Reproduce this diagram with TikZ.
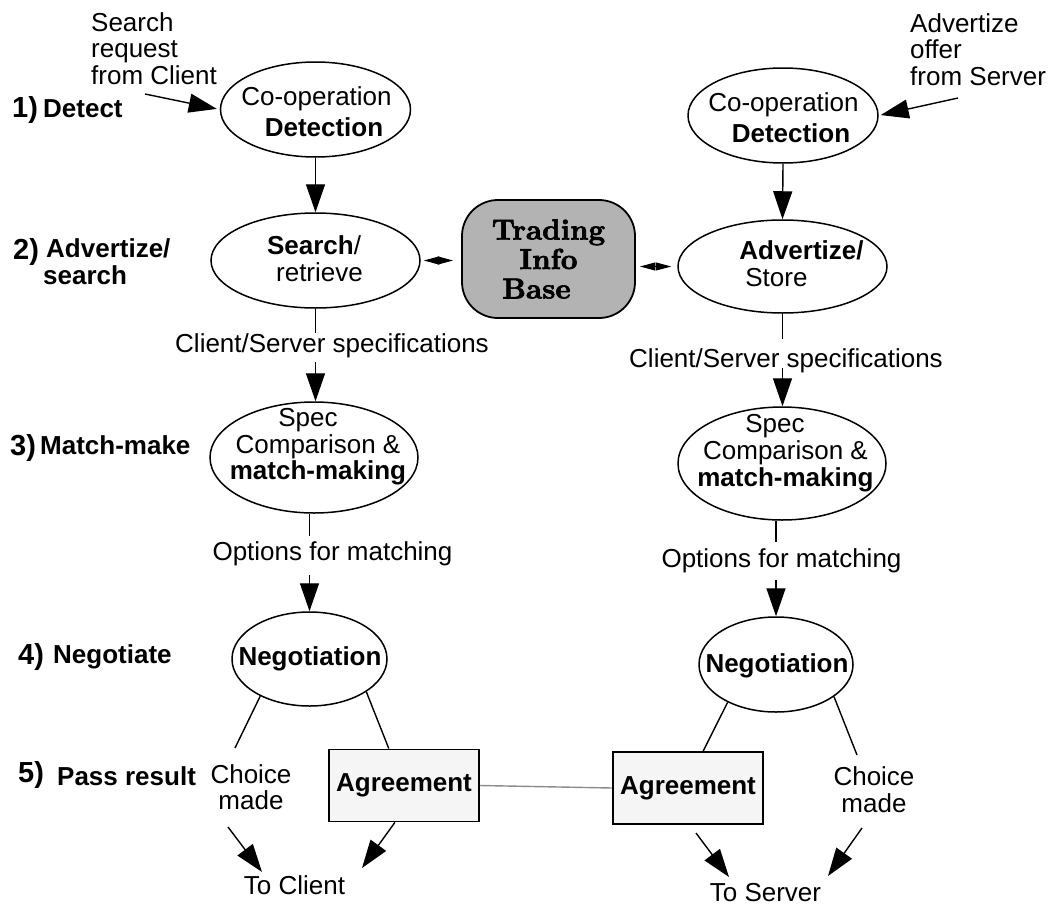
\documentclass[tikz,border=0pt]{standalone}
\usepackage{fontspec}
\newfontfamily\sansfont{Liberation Sans}
\newfontfamily\tibfont{lmroman10-bold.otf}[FakeBold=2.2]
\usetikzlibrary{shapes.geometric,arrows.meta,calc}

\definecolor{tibgray}{HTML}{B3B3B3}
\definecolor{agreefill}{HTML}{F5F5F5}
\definecolor{linkgray}{HTML}{8C8C8C}

\tikzset{
  lbl/.style={font=\sansfont\fontsize{26}{26.5}\selectfont, inner sep=0pt, align=center},
  lblb/.style={lbl, font=\sansfont\bfseries\fontsize{26}{26.5}\selectfont},
  stepnum/.style={font=\sansfont\bfseries\fontsize{29}{30}\selectfont, inner sep=0pt, anchor=base west},
  stagetext/.style={lblb, anchor=base west},
  oval/.style={draw, ellipse, line width=1.5pt, inner sep=0pt},
  conn/.style={line width=1.4pt},
  arr/.style={conn, -{Triangle[length=28pt,width=19pt]}},
  dbl/.style={line width=1pt, {Triangle[length=15.5pt,width=8pt]}-{Triangle[length=15.5pt,width=8pt]}},
  agree/.style={draw, line width=1.8pt, fill=agreefill, minimum width=150pt, minimum height=72pt,
                inner sep=0pt, font=\sansfont\bfseries\fontsize{26}{26.5}\selectfont},
  tibbox/.style={draw, line width=1.8pt, fill=tibgray, rounded corners=36pt,
                 minimum width=173pt, minimum height=118pt, inner sep=0pt, align=center,
                 font=\tibfont\fontsize{29}{29.5}\selectfont}
}

\begin{document}
\begin{tikzpicture}[x=1pt,y=-1pt]
\useasboundingbox (0,0) rectangle (1055,905);

% ---- stage labels on the left
\node[stepnum] (n1lbl) at (12,117) {1)};
\node[stagetext] (t1lbl) at (43,117) {Detect};
\node[stepnum] (n2lbl) at (13,259) {2)};
\node[stagetext] (t2lbl) at (46,257) {Advertize/};
\node[stagetext] (t2blbl) at (43,284) {search};
\node[stepnum] (n3lbl) at (10,455) {3)};
\node[stagetext] (t3lbl) at (40,454) {Match-make};
\node[stepnum] (n4lbl) at (18,664) {4)};
\node[stagetext] (t4lbl) at (53,663) {Negotiate};
\node[stepnum] (n5lbl) at (18,782) {5)};
\node[stagetext] (t5lbl) at (57,785) {Pass result};

% ---- incoming requests
\node[lbl, align=left, anchor=north west] (sreq) at (91,12.4) {Search\\request\\from Client};
\node[lbl, align=left, anchor=north west] (aoff) at (910,13.4) {Advertize\\offer\\from Server};
\coordinate (sreqEnd) at (145,94);
\coordinate (aoffEnd) at (958,98);

% ---- client side ovals
\node[oval, minimum width=190pt, minimum height=95pt] (d1) at (315.5,109.5) {};
\node[lbl, font=\sansfont\fontsize{26}{31}\selectfont] (d1t) at (316.5,112.2) {Co-operation\\\hspace*{15pt}\textbf{Detection}};
\node[oval, minimum width=209pt, minimum height=95pt] (s1) at (315.5,260.5) {};
\node[lbl, font=\sansfont\fontsize{26}{27}\selectfont] (s1t) at (314,259.2) {\textbf{Search}/\\\hspace*{11pt}retrieve};
\node[oval, minimum width=208pt, minimum height=111pt] (m1) at (314,457.5) {};
\node[lbl] (m1t) at (318,447) {Spec\hspace*{20pt}\\Comparison \&\\\textbf{match-making}};
\node[oval, minimum width=155pt, minimum height=94pt] (n1) at (309.5,659) {};
\node[lblb, anchor=base] (n1t) at (310,665) {Negotiation};

% ---- server side ovals
\node[oval, minimum width=190pt, minimum height=95pt] (d2) at (783,115.5) {};
\node[lbl, font=\sansfont\fontsize{26}{31}\selectfont] (d2t) at (783.5,118) {Co-operation\\\hspace*{15pt}\textbf{Detection}};
\node[oval, minimum width=209pt, minimum height=93pt] (s2) at (782.5,266.5) {};
\node[lbl, align=left, font=\sansfont\fontsize{26}{27}\selectfont] (s2t) at (801.5,264.2) {\textbf{Advertize/}\\\hspace*{6pt}Store};
\node[oval, minimum width=208pt, minimum height=113pt] (m2) at (782,463.5) {};
\node[lbl, font=\sansfont\fontsize{26}{27}\selectfont] (m2t) at (785.5,453.5) {Spec\hspace*{21pt}\\Comparison \&\\\textbf{match-making}};
\node[oval, minimum width=154pt, minimum height=95pt] (n2) at (776,664.5) {};
\node[lblb, anchor=base] (n2t) at (777,672) {Negotiation};

% ---- shared trading information base
\node[tibbox] (tib) at (548.5,259) {Trading\\Info\hspace*{24pt}\\Base\hspace*{24pt}};

% ---- connector labels
\node[lbl, anchor=base] (cs1) at (332,352) {Client/Server specifications};
\node[lbl, anchor=base] (op1) at (332.5,560) {Options for matching};
\node[lbl, anchor=base] (cs2) at (786,367) {Client/Server specifications};
\node[lbl, anchor=base] (op2) at (781.5,567) {Options for matching};

% ---- results
\node[agree] (a1) at (404,785.5) {Agreement};
\node[agree] (a2) at (688,788) {Agreement};
\node[lbl, font=\sansfont\fontsize{26}{26}\selectfont] (cm1) at (251,786.7) {Choice\\made};
\node[lbl, font=\sansfont\fontsize{26}{27}\selectfont] (cm2) at (874,789.2) {Choice\\made};
\node[lbl, anchor=base] (tc1) at (294.5,894) {To Client};
\node[lbl, anchor=base] (tc2) at (765.5,901) {To Server};

\coordinate (cm1top) at (235,748);
\coordinate (cm1bot) at (228,827);
\coordinate (tc1l) at (262,872);
\coordinate (tc1r) at (362,868);
\coordinate (cm2top) at (857,755);
\coordinate (cm2bot) at (862,828);
\coordinate (a2bot) at (696,833);
\coordinate (tc2l) at (729,877);
\coordinate (tc2r) at (828,876);

% ---- client side flow
\draw[arr, shorten >=3pt] (sreqEnd) -- (d1.west);
\draw[arr] (d1.south) -- (s1.north);
\draw[conn] (s1.south) -- (s1.south |- cs1.north);
\draw[arr, shorten <=4.5pt] (s1.south |- cs1.south) -- (s1.south |- m1.north);
\draw[conn, shorten >=5pt] (n1.north |- m1.south) -- (n1.north |- op1.north);
\draw[arr, shorten <=9.5pt] (n1.north |- op1.south) -- (n1.north);
\draw[conn] (n1.217.5) -- (cm1top);
\draw[conn] (n1.330.6) -- ($(a1.north west)!0.4!(a1.north east)$);
\draw[arr] (cm1bot) -- (tc1l);
\draw[arr] ($(a1.south west)!0.44!(a1.south east)$) -- (tc1r);

% ---- server side flow
\draw[arr, shorten >=2pt] (aoffEnd) -- (d2.east);
\draw[arr] (d2.south) -- (s2.north);
\draw[conn, shorten >=9pt] (s2.south) -- (s2.south |- cs2.north);
\draw[arr, shorten <=-4.5pt] (s2.south |- cs2.south) -- (s2.south |- m2.north);
\draw[conn, shorten >=6pt] (n2.north |- m2.south) -- (n2.north |- op2.north);
\draw[arr, shorten <=7.5pt] (n2.north |- op2.south) -- (n2.north);
\draw[conn] (n2.218.7) -- ($(a2.north west)!0.6!(a2.north east)$);
\draw[conn] (n2.331.2) -- (cm2top);
\draw[arr] (a2bot) -- (tc2l);
\draw[arr] (cm2bot) -- (tc2r);

% ---- links to the trading base and between agreements
\draw[dbl, shorten <=3pt, shorten >=8pt] (s1.east) -- (s1.east -| tib.west);
\draw[dbl, shorten <=4pt, shorten >=6pt] (s2.west -| tib.east) -- (s2.west);
\draw[linkgray, line width=1.4pt] (a1.east) -- (a2.west);
\end{tikzpicture}
\end{document}
